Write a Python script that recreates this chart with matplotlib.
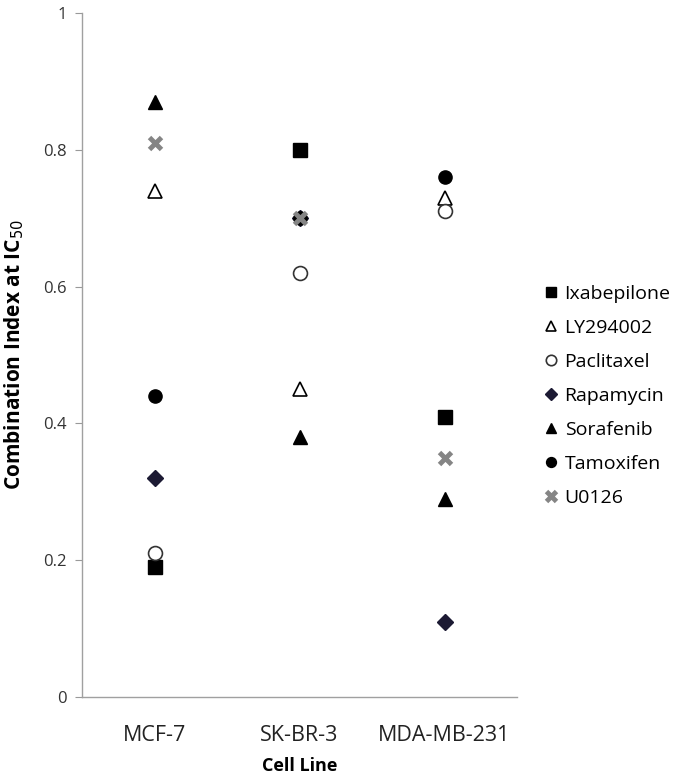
import matplotlib
matplotlib.use("Agg")
import matplotlib.pyplot as plt
from matplotlib.ticker import FuncFormatter

cell_lines = ["MCF-7", "SK-BR-3", "MDA-MB-231"]
drugs = ["Ixabepilone", "LY294002", "Paclitaxel", "Rapamycin", "Sorafenib", "Tamoxifen", "U0126"]
ixabepilone = [0.19, 0.80, 0.41]
ly294002 = [0.74, 0.45, 0.73]
paclitaxel = [0.21, 0.62, 0.71]
rapamycin = [0.32, 0.70, 0.11]
sorafenib = [0.87, 0.38, 0.29]
tamoxifen = [0.44, 0.70, 0.76]
u0126 = [0.81, 0.70, 0.35]
series = [ixabepilone, ly294002, paclitaxel, rapamycin, sorafenib, tamoxifen, u0126]

styles = [
    dict(marker="s", color="black", markersize=10.5, markerfacecolor="black", markeredgecolor="black"),
    dict(marker="^", color="black", markersize=10, markerfacecolor="white", markeredgecolor="black", markeredgewidth=1.2),
    dict(marker="o", color="black", markersize=10, markerfacecolor="white", markeredgecolor="#333333", markeredgewidth=1.2),
    dict(marker="D", color="#1c1a33", markersize=8, markerfacecolor="#1c1a33", markeredgecolor="#1c1a33"),
    dict(marker="^", color="black", markersize=10, markerfacecolor="black", markeredgecolor="black"),
    dict(marker="o", color="black", markersize=9.5, markerfacecolor="black", markeredgecolor="black"),
    dict(marker="x", color="#858585", markersize=9, markeredgecolor="#858585", markeredgewidth=3.5),
]

plt.rcParams['font.family'] = ['Open Sans', 'DejaVu Sans']

fig = plt.figure(figsize=(6.75, 7.79), dpi=100)
ax = fig.add_axes([82/675, 82/779, 435/675, 684/779])

x = list(range(1, len(cell_lines) + 1))
for name, vals, st in zip(drugs, series, styles):
    ax.plot(x, vals, linestyle="none", label=name, **st)

ax.set_xlim(0.5, 3.5)
ax.set_ylim(0, 1)
ax.set_yticks([0, 0.2, 0.4, 0.6, 0.8, 1.0])
ax.yaxis.set_major_formatter(FuncFormatter(lambda v, p: f"{v:g}"))
ax.set_xticks(x)
ax.set_xticklabels(cell_lines, fontsize=15.5, color="#222222")
ax.tick_params(axis="x", length=0, pad=20)
ax.tick_params(axis="y", length=5, color="#999999", labelsize=12, labelcolor="#333333", pad=6)

for s in ["top", "right"]:
    ax.spines[s].set_visible(False)
for s in ["left", "bottom"]:
    ax.spines[s].set_color("#a0a0a0")
    ax.spines[s].set_linewidth(1.0)

ax.set_ylabel("Combination Index at IC$_{50}$", fontsize=15, fontweight="bold", labelpad=12)
ax.set_xlabel("Cell Line", fontsize=13, fontweight="bold", labelpad=8)

leg = ax.legend(loc="center left", bbox_to_anchor=(1.02, 0.44), frameon=False,
                fontsize=14, markerscale=0.75, handlelength=0.8, handletextpad=0.3,
                labelspacing=0.82, numpoints=1)

fig.savefig("out.png", dpi=100)
